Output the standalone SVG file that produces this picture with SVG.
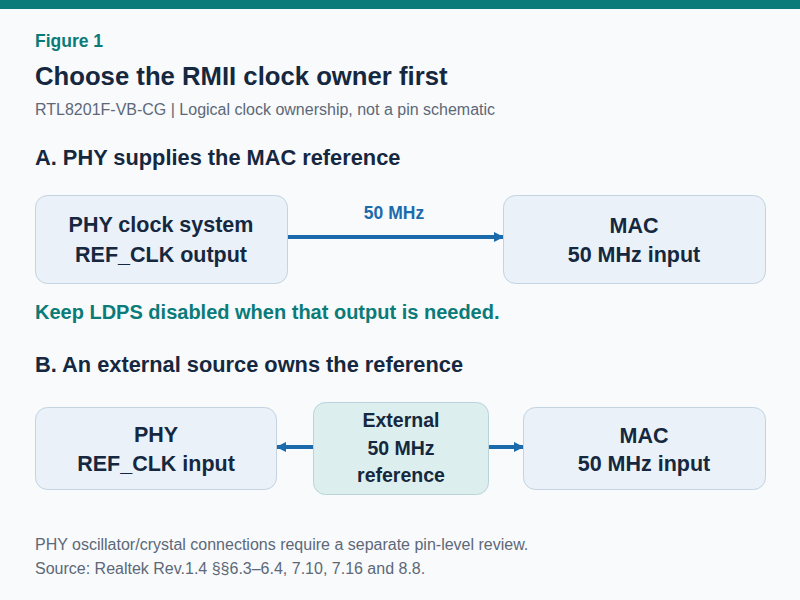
<svg xmlns="http://www.w3.org/2000/svg" width="800" height="600" viewBox="0 0 800 600">
<defs>
<style>
text{font-family:"Liberation Sans",Arial,sans-serif}
.dk{fill:#15283f;font-weight:bold}
.box{fill:#eaf1f8;stroke:#c3d3e1;stroke-width:1}
.ext{fill:#dcefee;stroke:#b8d4da;stroke-width:1}
.nt{font-size:21.5px;text-anchor:middle}
.et{font-size:19.5px;text-anchor:middle}
.gr{fill:#5d6878;font-size:16px}
.hd{font-size:21.8px}
.con{stroke:#1b6aac;stroke-width:4;fill:none}
</style>
<marker id="ah" markerWidth="10" markerHeight="10" refX="9" refY="5" orient="auto" markerUnits="userSpaceOnUse">
<path d="M0,0 L10,5 L0,10 Z" fill="#1b6aac"/>
</marker>
</defs>
<rect width="800" height="600" fill="#f8fafc"/>
<rect width="800" height="9" fill="#0a7b78"/>
<text x="35" y="47" font-size="17.5" font-weight="bold" fill="#0a7b78">Figure 1</text>
<text x="35" y="85" font-size="25.7" class="dk">Choose the RMII clock owner first</text>
<text x="35" y="115" class="gr">RTL8201F-VB-CG | Logical clock ownership, not a pin schematic</text>
<text x="35" y="165" class="dk hd">A. PHY supplies the MAC reference</text>
<g id="connectors">
<line class="con" x1="288" y1="237" x2="503" y2="237" marker-end="url(#ah)"/>
<text x="394" y="219" font-size="17.5" font-weight="bold" fill="#1b6aac" text-anchor="middle">50 MHz</text>
<line class="con" x1="313" y1="447" x2="277" y2="447" marker-end="url(#ah)"/>
<line class="con" x1="489" y1="447" x2="523" y2="447" marker-end="url(#ah)"/>
</g>
<g id="phy-a">
<rect class="box" x="35.5" y="195.5" width="252" height="88" rx="12"/>
<text class="dk nt" x="161" y="232">PHY clock system</text>
<text class="dk nt" x="161" y="262">REF_CLK output</text>
</g>
<g id="mac-a">
<rect class="box" x="503.5" y="195.5" width="262" height="88" rx="12"/>
<text class="dk nt" x="634" y="233">MAC</text>
<text class="dk nt" x="634" y="262">50 MHz input</text>
</g>
<text x="35" y="319" font-size="20" font-weight="bold" fill="#0a7b78">Keep LDPS disabled when that output is needed.</text>
<text x="35" y="372" class="dk hd">B. An external source owns the reference</text>
<g id="phy-b">
<rect class="box" x="35.5" y="407.5" width="241" height="82" rx="12"/>
<text class="dk nt" x="156" y="442">PHY</text>
<text class="dk nt" x="156" y="471">REF_CLK input</text>
</g>
<g id="ext-b">
<rect class="ext" x="313.5" y="402.5" width="175" height="92" rx="12"/>
<text class="dk et" x="401" y="427">External</text>
<text class="dk et" x="401" y="455">50 MHz</text>
<text class="dk et" x="401" y="482">reference</text>
</g>
<g id="mac-b">
<rect class="box" x="523.5" y="407.5" width="242" height="82" rx="12"/>
<text class="dk nt" x="644" y="443">MAC</text>
<text class="dk nt" x="644" y="471">50 MHz input</text>
</g>
<text x="35" y="550" class="gr">PHY oscillator/crystal connections require a separate pin-level review.</text>
<text x="35" y="574" class="gr">Source: Realtek Rev.1.4 §§6.3–6.4, 7.10, 7.16 and 8.8.</text>
</svg>
